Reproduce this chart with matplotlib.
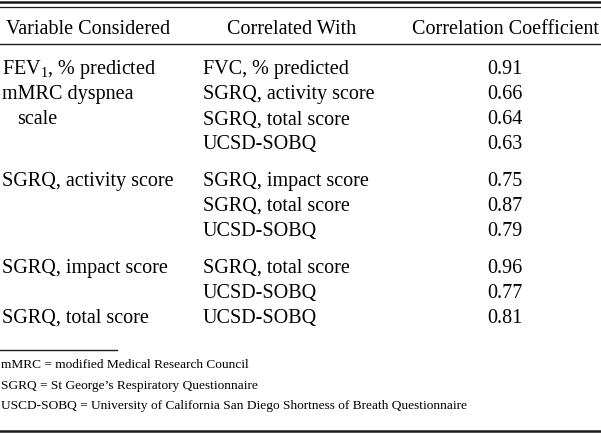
import matplotlib.pyplot as plt

plt.rcParams['font.family'] = ['Liberation Serif', 'DejaVu Serif']
plt.rcParams['mathtext.fontset'] = 'custom'
plt.rcParams['mathtext.rm'] = 'Liberation Serif'

# table content
headers = ["Variable Considered", "Correlated With", "Correlation Coefficient"]
variable = ["FEV$_\\mathregular{1}$, % predicted", "mMRC dyspnea", "  scale", "",
            "SGRQ, activity score", "", "",
            "SGRQ, impact score", "",
            "SGRQ, total score"]
correlated = ["FVC, % predicted", "SGRQ, activity score", "SGRQ, total score", "UCSD-SOBQ",
              "SGRQ, impact score", "SGRQ, total score", "UCSD-SOBQ",
              "SGRQ, total score", "UCSD-SOBQ",
              "UCSD-SOBQ"]
coefficient = [0.91, 0.66, 0.64, 0.63, 0.75, 0.87, 0.79, 0.96, 0.77, 0.81]
footnotes = ["mMRC = modified Medical Research Council",
             "SGRQ = St George\u2019s Respiratory Questionnaire",
             "USCD-SOBQ = University of California San Diego Shortness of Breath Questionnaire"]
group_breaks = [4, 7]  # extra space before these rows

W, H = 601, 433
fig = plt.figure(figsize=(W / 100, H / 100), dpi=100)
ax = fig.add_axes([0, 0, 1, 1])
ax.set_xlim(0, W)
ax.set_ylim(H, 0)
ax.axis('off')

fs = 14.5
line_col = '#1a1a1a'

# rules
ax.plot([0, W], [2, 2], color=line_col, lw=1.8)
ax.plot([0, W], [6.5, 6.5], color=line_col, lw=0.9)
ax.plot([0, W], [43.5, 43.5], color=line_col, lw=1.0)
ax.plot([0, 117], [350, 350], color=line_col, lw=1.0)
ax.plot([0, W], [431, 431], color=line_col, lw=1.8)

# header
ax.text(6, 33.5, headers[0], fontsize=fs, ha='left', va='baseline')
ax.text(292, 33.5, headers[1], fontsize=fs, ha='center', va='baseline')
ax.text(505, 33.5, headers[2], fontsize=fs, ha='center', va='baseline')

# body
for i, (v, c, r) in enumerate(zip(variable, correlated, coefficient)):
    y = 74 + 25.1 * i + 11.5 * sum(i >= b for b in group_breaks)
    if v:
        x = 17 if v.startswith(' ') else 2
        ax.text(x, y, v.strip(), fontsize=fs, ha='left', va='baseline')
    ax.text(203, y, c, fontsize=fs, ha='left', va='baseline')
    ax.text(505, y, f"{r:.2f}", fontsize=fs, ha='center', va='baseline')

# footnotes
for k, note in enumerate(footnotes):
    ax.text(1, 368 + 20.7 * k, note, fontsize=9.6, ha='left', va='baseline')

fig.savefig('out.png', dpi=100)
